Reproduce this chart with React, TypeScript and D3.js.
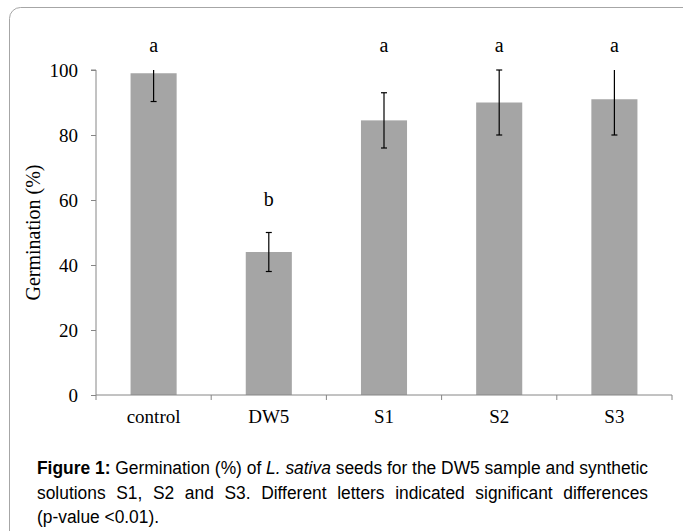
import React, { useRef, useEffect } from 'react';
import * as d3 from 'd3';

// germination data
const categories = ['control', 'DW5', 'S1', 'S2', 'S3'];
const germination = [99, 44, 84.5, 90, 91];
const errors = [8.7, 6, 8.5, 10, 11];
const letters = ['a', 'b', 'a', 'a', 'a'];
const letterLevel = [105.5, 58.3, 105.5, 105.5, 105.5];
const yTicks = [0, 20, 40, 60, 80, 100];

const App = () => {
  const ref = useRef<SVGSVGElement | null>(null);

  useEffect(() => {
    if (!ref.current) return;
    const svg = d3.select(ref.current);
    svg.selectAll('*').remove();

    const serif = '"Liberation Serif", "Times New Roman", serif';
    const sans = '"Liberation Sans", Arial, sans-serif';
    const axisColor = '#868686';

    // frame
    svg.append('rect')
      .attr('x', 9.5).attr('y', 7.5)
      .attr('width', 690).attr('height', 540)
      .attr('rx', 11)
      .attr('fill', 'none')
      .attr('stroke', '#a6a6a6')
      .attr('stroke-width', 1);

    const y = d3.scaleLinear().domain([0, 100]).range([395, 70]);
    const x = d3.scaleBand().domain(categories).range([96, 672]).padding(0);
    const barW = x.step() * 0.4;

    const g = svg.append('g');

    // y axis
    const yAxis = g.append('g')
      .attr('transform', 'translate(96,0)')
      .call(d3.axisLeft(y).tickValues(yTicks).tickSize(5).tickPadding(13));
    yAxis.select('.domain').attr('stroke', axisColor).attr('d', `M-5,${y(100)}H0V${y(0)}`);
    yAxis.selectAll('.tick line').attr('stroke', axisColor);
    yAxis.selectAll('.tick text')
      .attr('font-family', serif).attr('font-size', 19).attr('fill', '#000')
      .attr('dy', '0.33em');

    // bars
    g.selectAll('rect.bar')
      .data(categories)
      .enter()
      .append('rect')
      .attr('class', 'bar')
      .attr('x', (d) => (x(d) as number) + (x.step() - barW) / 2)
      .attr('y', (d, i) => y(germination[i]))
      .attr('width', barW)
      .attr('height', (d, i) => y(0) - y(germination[i]))
      .attr('fill', '#a5a5a5');

    // x axis
    const xAxisG = g.append('g').attr('transform', `translate(0,${y(0)})`);
    xAxisG.append('line')
      .attr('x1', 96).attr('x2', 672).attr('y1', 0).attr('y2', 0)
      .attr('stroke', axisColor);
    const bounds = d3.range(categories.length + 1).map((i) => 96 + i * x.step());
    xAxisG.selectAll('line.tk')
      .data(bounds)
      .enter()
      .append('line')
      .attr('class', 'tk')
      .attr('x1', (d) => d).attr('x2', (d) => d)
      .attr('y1', 0).attr('y2', 5)
      .attr('stroke', axisColor);
    xAxisG.selectAll('text')
      .data(categories)
      .enter()
      .append('text')
      .attr('x', (d) => (x(d) as number) + x.step() / 2)
      .attr('y', 28)
      .attr('text-anchor', 'middle')
      .attr('font-family', serif)
      .attr('font-size', 19)
      .text((d) => d);

    // error bars (clipped at 100, cap only when inside the axis)
    const capW = 6;
    categories.forEach((c, i) => {
      const cx = (x(c) as number) + x.step() / 2;
      const hi = germination[i] + errors[i];
      const lo = germination[i] - errors[i];
      const top = Math.min(hi, 100);
      g.append('line')
        .attr('x1', cx).attr('x2', cx)
        .attr('y1', y(top)).attr('y2', y(lo))
        .attr('stroke', '#000').attr('stroke-width', 1.2);
      g.append('line')
        .attr('x1', cx - capW / 2).attr('x2', cx + capW / 2)
        .attr('y1', y(lo)).attr('y2', y(lo))
        .attr('stroke', '#000').attr('stroke-width', 1.2);
      if (hi <= 100) {
        g.append('line')
          .attr('x1', cx - capW / 2).attr('x2', cx + capW / 2)
          .attr('y1', y(hi)).attr('y2', y(hi))
          .attr('stroke', '#000').attr('stroke-width', 1.2);
      }
      g.append('text')
        .attr('x', cx)
        .attr('y', y(letterLevel[i]))
        .attr('text-anchor', 'middle')
        .attr('font-family', serif)
        .attr('font-size', 20)
        .text(letters[i]);
    });

    // y axis title
    g.append('text')
      .attr('transform', `translate(40,${(y(0) + y(100)) / 2}) rotate(-90)`)
      .attr('text-anchor', 'middle')
      .attr('font-family', serif)
      .attr('font-size', 20)
      .text('Germination (%)');

    // caption
    const capSize = 18;
    const cap1 = svg.append('text')
      .attr('x', 37).attr('y', 474)
      .attr('font-family', sans).attr('font-size', capSize)
      .attr('textLength', 611).attr('lengthAdjust', 'spacingAndGlyphs');
    cap1.append('tspan').attr('font-weight', 'bold').text('Figure 1:');
    cap1.append('tspan').text(' Germination (%) of ');
    cap1.append('tspan').attr('font-style', 'italic').text('L. sativa');
    cap1.append('tspan').text(' seeds for the DW5 sample and synthetic');

    svg.append('text')
      .attr('x', 37).attr('y', 499)
      .attr('font-family', sans).attr('font-size', capSize)
      .attr('textLength', 611).attr('lengthAdjust', 'spacingAndGlyphs')
      .attr('word-spacing', 6)
      .text('solutions S1, S2 and S3. Different letters indicated significant differences');

    svg.append('text')
      .attr('x', 37).attr('y', 523)
      .attr('font-family', sans).attr('font-size', capSize)
      .attr('textLength', 122).attr('lengthAdjust', 'spacingAndGlyphs')
      .text('(p-value <0.01).');
  }, []);

  return (
    <svg ref={ref} width={683} height={531}
      style={{ position: 'absolute', left: 0, top: 0, background: '#fff' }} />
  );
};

export default App;
